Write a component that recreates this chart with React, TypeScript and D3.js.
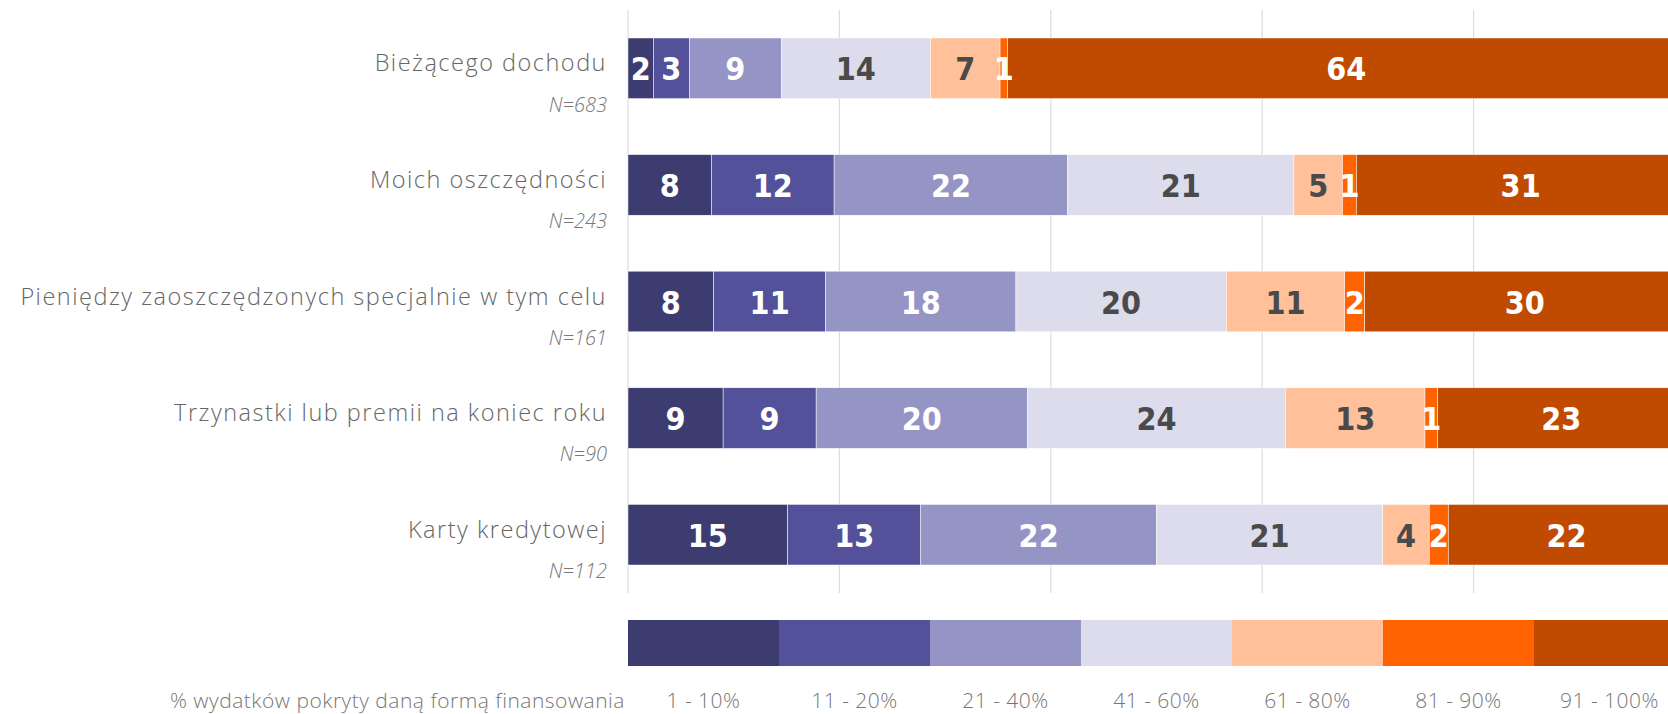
import React, { useEffect, useRef } from "react";
import * as d3 from "d3";

// categories (sources of financing) and sample sizes
const categories = [
  "Bieżącego dochodu",
  "Moich oszczędności",
  "Pieniędzy zaoszczędzonych specjalnie w tym celu",
  "Trzynastki lub premii na koniec roku",
  "Karty kredytowej",
];
const sampleSizes = ["N=683", "N=243", "N=161", "N=90", "N=112"];

// share of expenses bands
const bands = ["1 - 10%", "11 - 20%", "21 - 40%", "41 - 60%", "61 - 80%", "81 - 90%", "91 - 100%"];

// % of respondents per band (labels are rounded)
const biezacego = [2.4, 3.4, 8.7, 14.1, 6.6, 0.7, 64.1];
const oszczednosci = [7.9, 11.6, 22.1, 21.4, 4.6, 1.3, 31.1];
const zaoszczedzone = [8.1, 10.6, 18.0, 19.9, 11.2, 1.9, 30.3];
const trzynastka = [9.0, 8.8, 20.0, 24.4, 13.2, 1.2, 23.4];
const kartaKredytowa = [15.1, 12.6, 22.3, 21.4, 4.4, 1.8, 22.4];

const legendTitle = "% wydatków pokryty daną formą finansowania";
const gridTicks = [0, 20, 40, 60, 80, 100];

const colors = ["#3d3c70", "#52519a", "#9494c5", "#dcdcec", "#ffc09a", "#ff6300", "#c04b00"];
const darkText = [false, false, false, true, true, false, false];

export default function App() {
  const svgRef = useRef<SVGSVGElement>(null);

  useEffect(() => {
    const w = 1668;
    const h = 714;
    const rows = [biezacego, oszczednosci, zaoszczedzone, trzynastka, kartaKredytowa];

    const svg = d3.select(svgRef.current).attr("width", w).attr("height", h);
    svg.selectAll("*").remove();

    const x = d3.scaleLinear().domain([0, 100]).range([628, 1685]);
    const y = d3
      .scaleBand<string>()
      .domain(categories)
      .range([10, 593])
      .paddingInner(0.48)
      .paddingOuter(0.24);

    // vertical grid
    svg
      .append("g")
      .selectAll("line")
      .data(gridTicks)
      .join("line")
      .attr("x1", (d) => x(d))
      .attr("x2", (d) => x(d))
      .attr("y1", 10)
      .attr("y2", 593)
      .attr("stroke", "#dcdcdc")
      .attr("stroke-width", 1.2);

    const labelFont = "'Open Sans', Lato, sans-serif";
    const valueFont = "'Liberation Sans Narrow', 'DejaVu Sans Condensed', sans-serif";

    rows.forEach((vals, r) => {
      const cat = categories[r];
      const stacked = d3.cumsum(vals);
      const segs = vals.map((v, i) => ({ v, i, x0: stacked[i] - v, x1: stacked[i] }));
      const g = svg.append("g");
      const top = y(cat)!;
      const mid = top + y.bandwidth() / 2;

      g.selectAll("rect")
        .data(segs)
        .join("rect")
        .attr("x", (d) => x(d.x0))
        .attr("width", (d) => x(d.x1) - x(d.x0))
        .attr("y", top)
        .attr("height", y.bandwidth())
        .attr("fill", (d) => colors[d.i])
        .attr("stroke", "#fff")
        .attr("stroke-width", 0.5);

      g.selectAll("text")
        .data(segs)
        .join("text")
        .attr("x", (d) => (x(d.x0) + x(d.x1)) / 2)
        .attr("y", mid + 12)
        .attr("text-anchor", "middle")
        .attr("font-family", valueFont)
        .attr("font-weight", "bold")
        .attr("font-size", 32)
        .attr("fill", (d) => (darkText[d.i] ? "#4a4a4a" : "#fff"))
        .text((d) => Math.round(d.v));

      svg
        .append("text")
        .attr("x", 607)
        .attr("y", mid + 3)
        .attr("text-anchor", "end")
        .attr("font-family", labelFont)
        .attr("font-weight", 300)
        .attr("font-size", 23.5)
        .attr("letter-spacing", 1.5)
        .attr("fill", "#666")
        .text(cat);

      svg
        .append("text")
        .attr("x", 607)
        .attr("y", top + y.bandwidth() + 13)
        .attr("text-anchor", "end")
        .attr("font-family", labelFont)
        .attr("font-style", "italic")
        .attr("font-weight", 300)
        .attr("font-size", 20)
        .attr("fill", "#777")
        .text(sampleSizes[r]);
    });

    // legend
    const lx = d3.scaleBand<string>().domain(bands).range([628, 1685]);
    const legend = svg.append("g");
    legend
      .selectAll("rect")
      .data(bands)
      .join("rect")
      .attr("x", (d) => lx(d)!)
      .attr("width", lx.bandwidth())
      .attr("y", 620)
      .attr("height", 46)
      .attr("fill", (d, i) => colors[i]);

    legend
      .selectAll("text.band")
      .data(bands)
      .join("text")
      .attr("class", "band")
      .attr("x", (d) => lx(d)! + lx.bandwidth() / 2)
      .attr("y", 708)
      .attr("text-anchor", "middle")
      .attr("font-family", labelFont)
      .attr("font-weight", 300)
      .attr("font-size", 21)
      .attr("letter-spacing", 0.5)
      .attr("fill", "#777")
      .text((d) => d);

    legend
      .append("text")
      .attr("x", 625)
      .attr("y", 708)
      .attr("text-anchor", "end")
      .attr("font-family", labelFont)
      .attr("font-weight", 300)
      .attr("font-size", 21)
      .attr("letter-spacing", 0.5)
      .attr("fill", "#777")
      .text(legendTitle);
  }, []);

  return (
    <div style={{ position: "fixed", left: 0, top: 0, width: 1668, height: 714, overflow: "hidden", background: "#fff" }}>
      <svg ref={svgRef} style={{ display: "block" }}></svg>
    </div>
  );
}
